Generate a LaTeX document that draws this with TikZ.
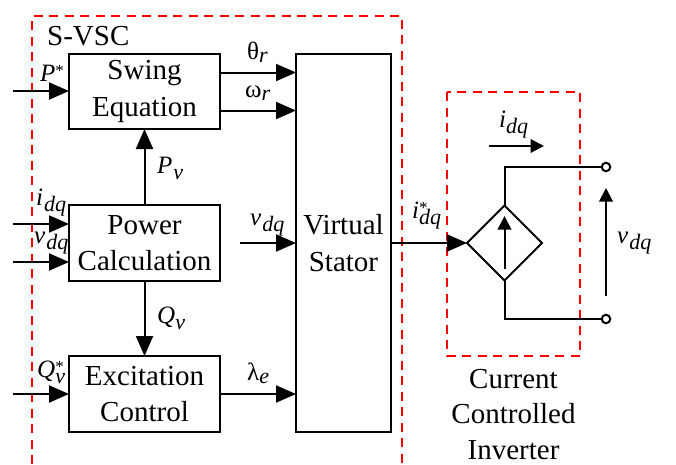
\documentclass[tikz,border=0pt]{standalone}
\usepackage{fontspec}
\setmainfont{Liberation Serif}
\usetikzlibrary{arrows.meta,shapes.geometric}
\newcommand{\sbs}[1]{\raisebox{-6pt}{\fontsize{22}{22}\selectfont\itshape #1}}
\newcommand{\sbr}[1]{\raisebox{-3pt}{\fontsize{22}{22}\selectfont\itshape #1}}
\newcommand{\sps}[1]{\raisebox{5pt}{\fontsize{17}{17}\selectfont\upshape #1}}
\newcommand{\tline}[1]{\raisebox{-1.5pt}{#1}}
\tikzset{
  blockbox/.style={draw,line width=2pt,inner sep=0pt,outer sep=0pt,align=center,font=\fontsize{29}{36.5}\selectfont},
  arr/.style={line width=2pt,-{Triangle[length=20pt,width=17pt]}},
  arrs/.style={line width=2pt,-{Triangle[length=13.5pt,width=13.5pt]}},
  wire/.style={line width=2pt},
  redbox/.style={draw=red,line width=2pt,dash pattern=on 9pt off 6.5pt},
  lab/.style={inner sep=0pt,anchor=base west,font=\fontsize{25}{25}\selectfont},
  term/.style={circle,draw,fill=white,line width=2pt,minimum size=8.5pt,inner sep=0pt,outer sep=0pt},
}
\begin{document}
\begin{tikzpicture}[x=1pt,y=-1pt]
\useasboundingbox (0,0) rectangle (676,464);
\fill[white] (0,0) rectangle (676,464);
% red frames
\draw[redbox] (32,464) -- (32,16) -- (402,16) -- (402,464);
\draw[redbox] (447,92) rectangle (580,356);
% blocks
\node[blockbox,minimum width=151pt,minimum height=75pt] (swing) at (144.5,91.5) {\tline{Swing}\\\tline{Equation}};
\node[blockbox,minimum width=151pt,minimum height=76pt] (power) at (144.5,243) {\tline{Power}\\\tline{Calculation}};
\node[blockbox,minimum width=151pt,minimum height=76pt] (exc) at (144.5,394) {\tline{Excitation}\\\tline{Control}};
\node[blockbox,minimum width=95pt,minimum height=378pt] (stator) at (343.5,243) {\tline{Virtual}\\\tline{Stator}};
\node[diamond,draw,line width=2pt,minimum width=75pt,minimum height=75pt,inner sep=0pt,outer sep=0pt,shape aspect=1] (src) at (504.5,243) {};
\node[term] (t1) at (606,167) {};
\node[term] (t2) at (606,319) {};
% free ends
\coordinate (a) at (13,91);
\coordinate (b) at (13,224);
\coordinate (c) at (13,262);
\coordinate (d) at (13,394);
\coordinate (e) at (240,243);
\coordinate (f) at (489,146);
\coordinate (g) at (544,146);
\coordinate (h) at (606,296);
\coordinate (k) at (606,188);
\coordinate (m) at (504.5,269);
\coordinate (n) at (504.5,216);
% arrows
\draw[arr] (a) -- (swing.west |- a);
\draw[arr] (b) -- (power.west |- b);
\draw[arr] (c) -- (power.west |- c);
\draw[arr] (d) -- (exc.west |- d);
\draw[arr] (power.north) -- (swing.south);
\draw[arr] (power.south) -- (exc.north);
\draw[arr] (swing.east |- 0,72.5) -- (stator.west |- 0,72.5);
\draw[arr] (swing.east |- 0,110.5) -- (stator.west |- 0,110.5);
\draw[arr] (e) -- (stator.west |- e);
\draw[arr] (exc.east |- 0,394) -- (stator.west |- 0,394);
\draw[arr] (stator.east |- src.west) -- (src.west);
\draw[arrs] (f) -- (g);
\draw[arrs] (m) -- (n);
\draw[arrs] (h) -- (k);
\draw[wire] (src.north) |- (t1.west);
\draw[wire] (src.south) |- (t2.west);
% labels
\node[lab,font=\fontsize{29}{29}\selectfont] (svsc) at (47,45) {S-VSC};
\node[lab] (l1) at (40,81) {\itshape P\sps{*}};
\node[lab] (l2) at (36,205) {\itshape i\hspace{1pt}\sbs{dq}};
\node[lab] (l3) at (34,243) {\itshape v\hspace{1pt}\sbs{dq}};
\node[lab] (l4) at (37,377) {\itshape Q\rlap{\sps{*}}\sbs{v}};
\node[lab] (l5) at (247,59) {θ\sbr{r}};
\node[lab] (l6) at (245,97) {ω\sbr{r}};
\node[lab] (l7) at (247,380) {λ\sbr{e}};
\node[lab] (l8) at (157,173) {\itshape P\hspace{1pt}\sbs{v}};
\node[lab] (l9) at (157,323) {\itshape Q\sbs{v}};
\node[lab] (l10) at (250,225) {\itshape v\hspace{1pt}\sbs{dq}};
\node[lab] (l11) at (412,218) {\itshape i\rlap{\sps{*}}\raisebox{-6pt}{\fontsize{22}{22}\selectfont dq}};
\node[lab] (l12) at (499,127) {\itshape i\sbs{dq}};
\node[lab] (l13) at (617,243) {\itshape v\hspace{1pt}\sbs{dq}};
\node[inner sep=0pt,align=center,font=\fontsize{29}{35.5}\selectfont,anchor=base] (cci) at (513.5,459) {Current\\Controlled\\Inverter};
\end{tikzpicture}
\end{document}
